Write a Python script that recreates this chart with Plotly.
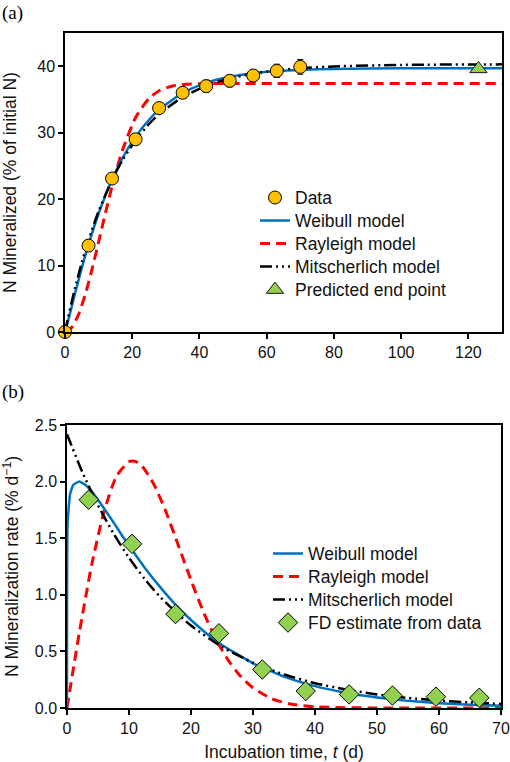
import plotly.graph_objects as go

# ---------------- Panel (a): cumulative N mineralized ----------------
t_obs = [0, 7, 14, 21, 28, 35, 42, 49, 56, 63, 70]
n_obs = [0.0, 13.0, 23.1, 29.0, 33.7, 36.0, 37.0, 37.8, 38.6, 39.3, 39.9]
n_err = [0.0, 0.5, 0.6, 0.7, 0.8, 0.8, 0.9, 0.9, 0.9, 1.0, 1.1]

t_end = [123]
n_end = [39.6]

t_weib = [0, 1, 2, 3, 5, 7, 10, 14, 17, 21, 25, 28, 35, 42, 49, 56, 63, 70, 80, 100, 130]
n_weib = [0, 1.84, 3.83, 5.84, 9.65, 13.18, 17.83, 22.96, 26.07, 29.4, 31.95, 33.47,
          35.97, 37.5, 38.41, 38.95, 39.27, 39.45, 39.59, 39.68, 39.7]

t_mits = [0, 1, 2, 3, 5, 7, 10, 14, 17, 21, 25, 28, 35, 42, 49, 56, 63, 70, 80, 100, 130]
n_mits = [0, 2.35, 4.56, 6.64, 10.45, 13.82, 18.18, 22.90, 25.77, 28.87, 31.31, 32.79,
          35.36, 37.06, 38.17, 38.90, 39.38, 39.70, 39.97, 40.20, 40.28]

t_rayl = [0, 2, 4, 6, 8, 10, 12, 14, 17, 21, 25, 28, 32, 36, 42, 50, 130]
n_rayl = [0, 0.67, 2.60, 5.60, 9.37, 13.57, 17.85, 21.93, 27.23, 32.27, 35.16, 36.31,
          37.03, 37.29, 37.39, 37.4, 37.4]

# ---------------- Panel (b): mineralization rate ----------------
t_fd = [3.5, 10.5, 17.5, 24.5, 31.5, 38.5, 45.5, 52.5, 59.5, 66.5]
r_fd = [1.84, 1.45, 0.83, 0.66, 0.34, 0.15, 0.12, 0.11, 0.10, 0.09]

tr_weib = [0, 0.1, 0.5, 1, 2, 3, 4, 5, 6, 7.5, 8.75, 10, 12.5, 15, 17.5, 20, 22.5, 25, 30,
           35, 40, 45, 50, 55, 60, 65, 70]
r_weib = [0, 1.64, 1.89, 1.97, 2.00, 1.97, 1.911, 1.84, 1.761, 1.64, 1.535, 1.435, 1.242,
          1.07, 0.913, 0.777, 0.659, 0.557, 0.395, 0.277, 0.193, 0.134, 0.092, 0.063, 0.043,
          0.029, 0.020]

tr_mits = [0, 2.5, 5, 7.5, 10, 12.5, 15, 20, 25, 30, 35, 40, 45, 50, 55, 60, 65, 70]
r_mits = [2.418, 2.081, 1.791, 1.542, 1.327, 1.142, 0.983, 0.728, 0.540, 0.400, 0.296,
          0.219, 0.163, 0.120, 0.089, 0.066, 0.049, 0.036]

tr_rayl = [0, 1, 2, 4, 6, 8, 10, 11, 12, 14, 16, 18, 20, 22, 24, 26, 28, 30, 33, 36, 40, 50, 70]
r_rayl = [0, 0.34, 0.67, 1.27, 1.74, 2.05, 2.176, 2.179, 2.144, 1.977, 1.727, 1.43, 1.129,
          0.848, 0.610, 0.422, 0.280, 0.178, 0.083, 0.035, 0.010, 0.0, 0.0]

FONT = "Liberation Sans, Arial, sans-serif"
BLUE = "#0070C0"
RED = "#FF0000"
ORANGE = "#FFC000"
GREEN = "#92D050"
MITS_DASH = "12px,4px,2px,4px,2px,4px"
LEG_TXT = 17.5   # visible legend text size
TITLE_SIZE = 17.5
TICK_SIZE = 16


def leg(name):
    return f'<span style="font-size:{LEG_TXT}px">{name}</span>'


fig = go.Figure()

# ---- panel (a) traces ----
fig.add_trace(go.Scatter(x=t_rayl, y=n_rayl, mode="lines", name=leg("Rayleigh model"),
                         line=dict(color=RED, width=3, dash="10px,6px", shape="spline", smoothing=0.6),
                         xaxis="x", yaxis="y", legend="legend", legendrank=3))
fig.add_trace(go.Scatter(x=t_weib, y=n_weib, mode="lines", name=leg("Weibull model"),
                         line=dict(color=BLUE, width=2.5, shape="spline", smoothing=0.6),
                         xaxis="x", yaxis="y", legend="legend", legendrank=2))
fig.add_trace(go.Scatter(x=t_mits, y=n_mits, mode="lines", name=leg("Mitscherlich model"),
                         line=dict(color="black", width=2.5, dash=MITS_DASH, shape="spline", smoothing=0.6),
                         xaxis="x", yaxis="y", legend="legend", legendrank=4))
fig.add_trace(go.Scatter(x=t_obs, y=n_obs, mode="markers", name=leg("Data"),
                         marker=dict(symbol="circle", size=13, color=ORANGE,
                                     line=dict(color="black", width=1)),
                         error_y=dict(type="data", array=n_err, color="black", thickness=1, width=3),
                         cliponaxis=False,
                         xaxis="x", yaxis="y", legend="legend", legendrank=1))
fig.add_trace(go.Scatter(x=t_end, y=n_end, mode="markers", name=leg("Predicted end point"),
                         marker=dict(symbol="triangle-up", size=15, color=GREEN,
                                     line=dict(color="#1a1a1a", width=1)),
                         cliponaxis=False,
                         xaxis="x", yaxis="y", legend="legend", legendrank=5))

# ---- panel (b) traces ----
fig.add_trace(go.Scatter(x=tr_rayl, y=r_rayl, mode="lines", name=leg("Rayleigh model"),
                         line=dict(color=RED, width=3, dash="10px,6px", shape="spline", smoothing=0.6),
                         xaxis="x2", yaxis="y2", legend="legend2", legendrank=2))
fig.add_trace(go.Scatter(x=tr_weib, y=r_weib, mode="lines", name=leg("Weibull model"),
                         line=dict(color=BLUE, width=2.5, shape="spline", smoothing=0.4),
                         xaxis="x2", yaxis="y2", legend="legend2", legendrank=1))
fig.add_trace(go.Scatter(x=tr_mits, y=r_mits, mode="lines", name=leg("Mitscherlich model"),
                         line=dict(color="black", width=2.5, dash=MITS_DASH, shape="spline", smoothing=0.6),
                         xaxis="x2", yaxis="y2", legend="legend2", legendrank=3))
fig.add_trace(go.Scatter(x=t_fd, y=r_fd, mode="markers", name=leg("FD estimate from data"),
                         marker=dict(symbol="diamond", size=15, color=GREEN,
                                     line=dict(color="black", width=1)),
                         cliponaxis=False,
                         xaxis="x2", yaxis="y2", legend="legend2", legendrank=4))

W, H = 510, 762
axis_common = dict(showline=True, mirror=True, linecolor="black", linewidth=1.5,
                   ticks="outside", ticklen=5, tickwidth=1.5, tickcolor="black",
                   showgrid=False, zeroline=False, automargin=False,
                   tickfont=dict(family=FONT, size=TICK_SIZE, color="#111111"))
title_font = dict(family=FONT, size=TITLE_SIZE, color="#111111")

fig.update_layout(
    width=W, height=H,
    margin=dict(l=0, r=0, t=0, b=0),
    paper_bgcolor="white", plot_bgcolor="white",
    template="none",
    font=dict(family=FONT, size=15, color="black"),
    xaxis=dict(domain=[65 / W, 502 / W], range=[0, 130], tick0=0, dtick=20, anchor="y",
               **axis_common),
    yaxis=dict(domain=[1 - 332 / H, 1 - 33 / H], range=[0, 45], tickvals=[0, 10, 20, 30, 40],
               anchor="x",
               title=dict(text="N Mineralized (% of initial N)", standoff=16, font=title_font),
               **axis_common),
    xaxis2=dict(domain=[67 / W, 501 / W], range=[0, 70], tick0=0, dtick=10, anchor="y2",
                title=dict(text="Incubation time, <i>t</i> (d)", standoff=10, font=title_font),
                **axis_common),
    yaxis2=dict(domain=[1 - 708 / H, 1 - 425 / H], range=[0, 2.5], tick0=0, dtick=0.5,
                tickformat=".1f", anchor="x2",
                title=dict(text="N Mineralization rate (% d<sup>\u22121</sup>)", standoff=12,
                           font=title_font),
                **axis_common),
    legend=dict(x=255 / W, y=1 - 181 / H, xanchor="left", yanchor="top",
                bgcolor="rgba(0,0,0,0)", borderwidth=0,
                font=dict(family=FONT, size=15.4, color="#111111")),
    legend2=dict(x=268 / W, y=1 - 537 / H, xanchor="left", yanchor="top",
                 bgcolor="rgba(0,0,0,0)", borderwidth=0,
                 font=dict(family=FONT, size=15.4, color="#111111")),
    annotations=[
        dict(text="(a)", x=0, y=1, xref="paper", yref="paper", xanchor="left", yanchor="top",
             showarrow=False, font=dict(family="Liberation Serif, Times New Roman, serif", size=19, color="black")),
        dict(text="(b)", x=0, y=1 - 379 / H, xref="paper", yref="paper", xanchor="left", yanchor="top",
             showarrow=False, font=dict(family="Liberation Serif, Times New Roman, serif", size=19, color="black")),
    ],
)

fig.write_html("out.html", config={"displayModeBar": False},
               post_script="document.body.style.margin='0';")
